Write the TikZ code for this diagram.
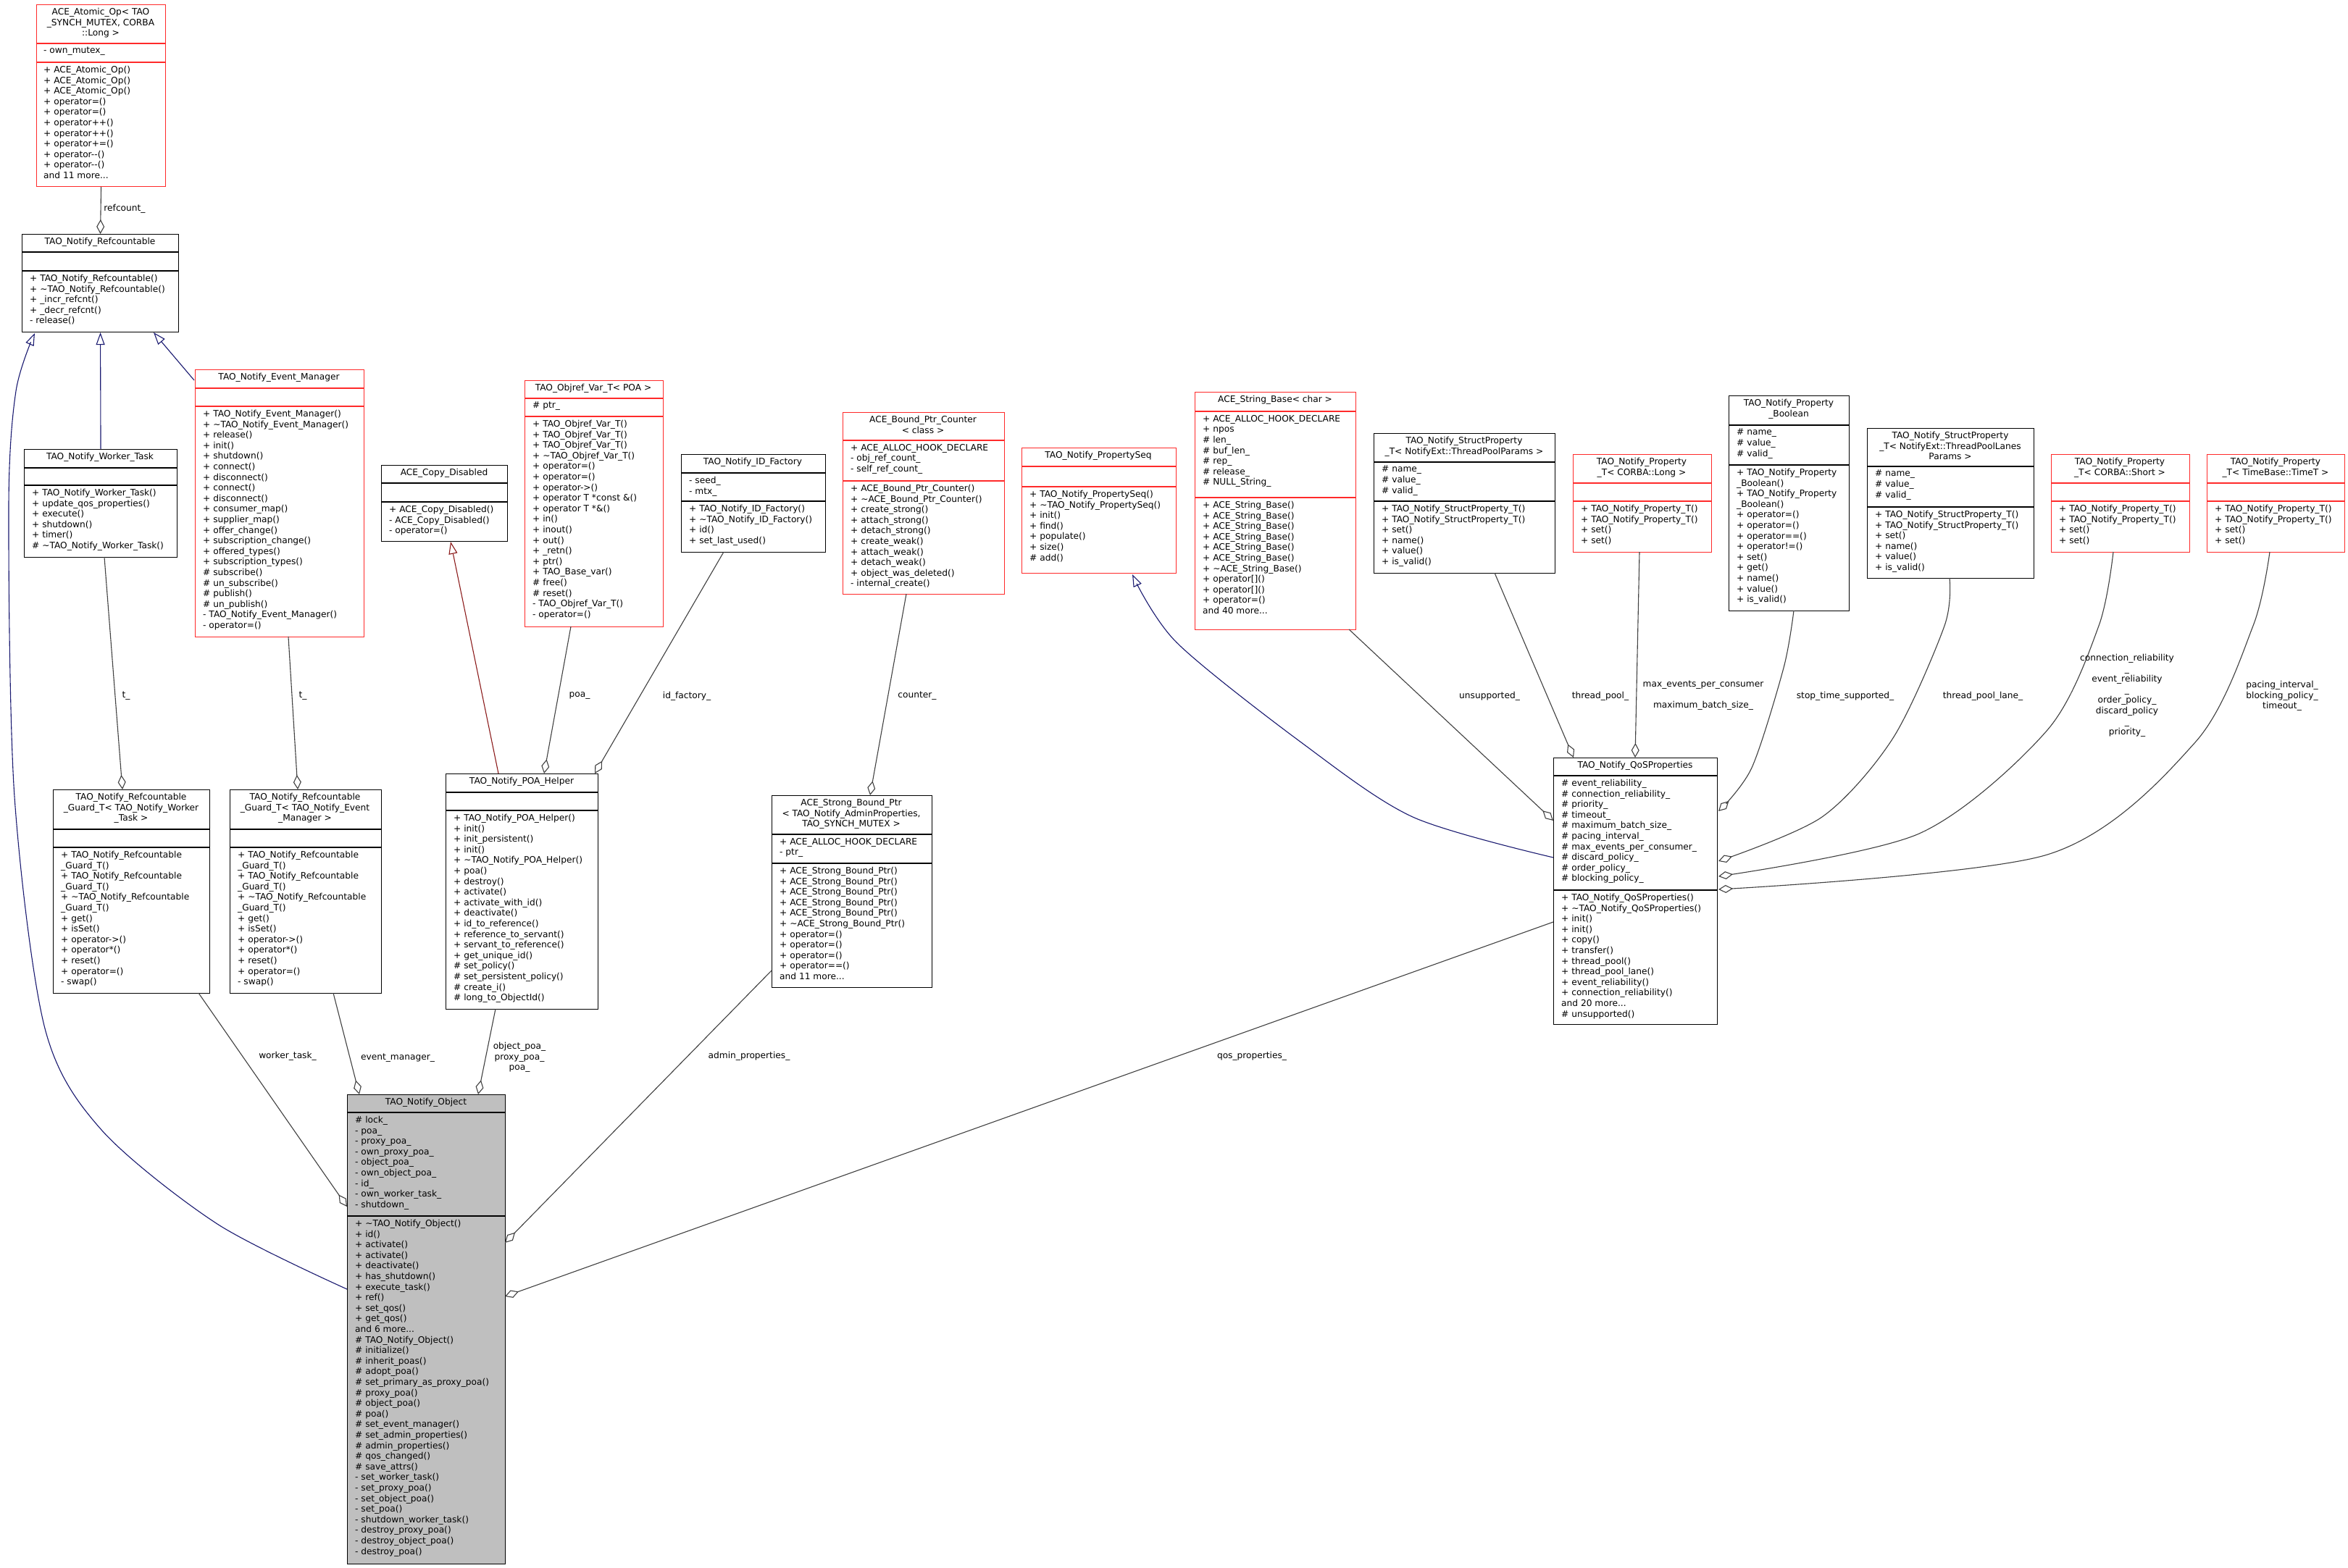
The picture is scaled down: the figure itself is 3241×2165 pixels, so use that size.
\documentclass[tikz,border=0pt]{standalone}
\usepackage{fontspec}
\setmainfont{DejaVu Sans}
\usetikzlibrary{arrows.meta}
\definecolor{bred}{HTML}{FF2A2A}
\definecolor{egray}{HTML}{404040}
\definecolor{navy}{HTML}{191970}
\definecolor{fred}{HTML}{8B1A1A}
\definecolor{objfill}{HTML}{BFBFBF}
\newcommand\tl{\textasciitilde}
\newcommand\cls[8]{%
  \node[#8, anchor=north west, minimum width={#4-#2}, minimum height={#5-#3}] (#1) at (#2,#3) {};
  \draw[#8] (#2,#6)--(#4,#6) (#2,#7)--(#4,#7);}
\tikzset{
  every node/.style={font=\fontsize{12.2}{14.6}\selectfont},
  cbox/.style={draw=black, line width=1.1pt, inner sep=0, fill=white},
  rbox/.style={draw=bred, line width=1.1pt, inner sep=0, fill=white},
  obox/.style={draw=black, line width=1.1pt, inner sep=0, fill=objfill},
  ttl/.style={anchor=north, align=center, inner sep=0},
  txt/.style={anchor=north west, align=left, inner sep=0},
  lbl/.style={anchor=north, align=center, inner sep=0},
  agg/.style={draw=egray, line width=1.1pt, -{Diamond[open,length=20pt,width=11pt]}},
  inhb/.style={draw=navy, line width=1.1pt, -{Triangle[open,length=17pt,width=12pt]}},
  inhr/.style={draw=fred, line width=1.1pt, -{Triangle[open,length=17pt,width=12pt]}},
}
\begin{document}
\begin{tikzpicture}[x=1pt,y=-1pt]
\useasboundingbox[fill=white] (0,0) rectangle (3241,2165);

% ---------------- classes
\cls{atomic}{50}{6}{228}{257}{60}{86}{rbox}
\node[ttl] at (139,11) {ACE\_Atomic\_Op< TAO\\\_SYNCH\_MUTEX, CORBA\\::Long >};
\node[txt] at (60,65) {- own\_mutex\_};
\node[txt] at (60,91) {+ ACE\_Atomic\_Op()\\+ ACE\_Atomic\_Op()\\+ ACE\_Atomic\_Op()\\+ operator=()\\+ operator=()\\+ operator++()\\+ operator++()\\+ operator+=()\\+ operator-{}-()\\+ operator-{}-()\\and 11 more...};

\cls{refc}{30}{323}{246}{458}{348}{374}{cbox}
\node[ttl] at (138,328) {TAO\_Notify\_Refcountable};
\node[txt] at (41,379) {+ TAO\_Notify\_Refcountable()\\+ \tl TAO\_Notify\_Refcountable()\\+ \_incr\_refcnt()\\+ \_decr\_refcnt()\\- release()};

\cls{worker}{33}{620}{244}{769}{646}{670}{cbox}
\node[ttl] at (138,625) {TAO\_Notify\_Worker\_Task};
\node[txt] at (44,675) {+ TAO\_Notify\_Worker\_Task()\\+ update\_qos\_properties()\\+ execute()\\+ shutdown()\\+ timer()\\\# \tl TAO\_Notify\_Worker\_Task()};

\cls{evm}{269}{510}{502}{879}{536}{561}{rbox}
\node[ttl] at (385,515) {TAO\_Notify\_Event\_Manager};
\node[txt] at (280,566) {+ TAO\_Notify\_Event\_Manager()\\+ \tl TAO\_Notify\_Event\_Manager()\\+ release()\\+ init()\\+ shutdown()\\+ connect()\\+ disconnect()\\+ connect()\\+ disconnect()\\+ consumer\_map()\\+ supplier\_map()\\+ offer\_change()\\+ subscription\_change()\\+ offered\_types()\\+ subscription\_types()\\\# subscribe()\\\# un\_subscribe()\\\# publish()\\\# un\_publish()\\- TAO\_Notify\_Event\_Manager()\\- operator=()};

\cls{copyd}{526}{642}{700}{747}{667}{693}{cbox}
\node[ttl] at (613,647) {ACE\_Copy\_Disabled};
\node[txt] at (537,698) {+ ACE\_Copy\_Disabled()\\- ACE\_Copy\_Disabled()\\- operator=()};

\cls{objref}{724}{525}{915}{865}{550}{575}{rbox}
\node[ttl] at (819,530) {TAO\_Objref\_Var\_T< POA >};
\node[txt] at (735,555) {\# ptr\_};
\node[txt] at (735,580) {+ TAO\_Objref\_Var\_T()\\+ TAO\_Objref\_Var\_T()\\+ TAO\_Objref\_Var\_T()\\+ \tl TAO\_Objref\_Var\_T()\\+ operator=()\\+ operator=()\\+ operator->()\\+ operator T *const \&()\\+ operator T *\&()\\+ in()\\+ inout()\\+ out()\\+ \_retn()\\+ ptr()\\+ TAO\_Base\_var()\\\# free()\\\# reset()\\- TAO\_Objref\_Var\_T()\\- operator=()};

\cls{idf}{940}{627}{1139}{762}{653}{692}{cbox}
\node[ttl] at (1039,632) {TAO\_Notify\_ID\_Factory};
\node[txt] at (951,658) {- seed\_\\- mtx\_};
\node[txt] at (951,697) {+ TAO\_Notify\_ID\_Factory()\\+ \tl TAO\_Notify\_ID\_Factory()\\+ id()\\+ set\_last\_used()};

\cls{bpc}{1163}{569}{1386}{820}{608}{664}{rbox}
\node[ttl] at (1274,574) {ACE\_Bound\_Ptr\_Counter\\< class >};
\node[txt] at (1174,613) {+ ACE\_ALLOC\_HOOK\_DECLARE\\- obj\_ref\_count\_\\- self\_ref\_count\_};
\node[txt] at (1174,669) {+ ACE\_Bound\_Ptr\_Counter()\\+ \tl ACE\_Bound\_Ptr\_Counter()\\+ create\_strong()\\+ attach\_strong()\\+ detach\_strong()\\+ create\_weak()\\+ attach\_weak()\\+ detach\_weak()\\+ object\_was\_deleted()\\- internal\_create()};

\cls{pseq}{1410}{618}{1623}{791}{644}{672}{rbox}
\node[ttl] at (1516,623) {TAO\_Notify\_PropertySeq};
\node[txt] at (1421,677) {+ TAO\_Notify\_PropertySeq()\\+ \tl TAO\_Notify\_PropertySeq()\\+ init()\\+ find()\\+ populate()\\+ size()\\\# add()};

\cls{strb}{1649}{541}{1871}{869}{568}{687}{rbox}
\node[ttl] at (1760,546) {ACE\_String\_Base< char >};
\node[txt] at (1660,573) {+ ACE\_ALLOC\_HOOK\_DECLARE\\+ npos\\\# len\_\\\# buf\_len\_\\\# rep\_\\\# release\_\\\# NULL\_String\_};
\node[txt] at (1660,692) {+ ACE\_String\_Base()\\+ ACE\_String\_Base()\\+ ACE\_String\_Base()\\+ ACE\_String\_Base()\\+ ACE\_String\_Base()\\+ ACE\_String\_Base()\\+ \tl ACE\_String\_Base()\\+ operator[]()\\+ operator[]()\\+ operator=()\\and 40 more...};

\cls{tpp}{1896}{598}{2146}{791}{638}{692}{cbox}
\node[ttl] at (2021,603) {TAO\_Notify\_StructProperty\\\_T< NotifyExt::ThreadPoolParams >};
\node[txt] at (1907,643) {\# name\_\\\# value\_\\\# valid\_};
\node[txt] at (1907,697) {+ TAO\_Notify\_StructProperty\_T()\\+ TAO\_Notify\_StructProperty\_T()\\+ set()\\+ name()\\+ value()\\+ is\_valid()};

\cls{plong}{2171}{627}{2362}{762}{667}{692}{rbox}
\node[ttl] at (2266,632) {TAO\_Notify\_Property\\\_T< CORBA::Long >};
\node[txt] at (2182,697) {+ TAO\_Notify\_Property\_T()\\+ TAO\_Notify\_Property\_T()\\+ set()\\+ set()};

\cls{pbool}{2386}{546}{2552}{843}{587}{642}{cbox}
\node[ttl] at (2469,551) {TAO\_Notify\_Property\\\_Boolean};
\node[txt] at (2397,592) {\# name\_\\\# value\_\\\# valid\_};
\node[txt] at (2397,647) {+ TAO\_Notify\_Property\\\_Boolean()\\+ TAO\_Notify\_Property\\\_Boolean()\\+ operator=()\\+ operator=()\\+ operator==()\\+ operator!=()\\+ set()\\+ get()\\+ name()\\+ value()\\+ is\_valid()};

\cls{tpl}{2577}{591}{2807}{798}{644}{700}{cbox}
\node[ttl] at (2692,596) {TAO\_Notify\_StructProperty\\\_T< NotifyExt::ThreadPoolLanes\\Params >};
\node[txt] at (2588,649) {\# name\_\\\# value\_\\\# valid\_};
\node[txt] at (2588,705) {+ TAO\_Notify\_StructProperty\_T()\\+ TAO\_Notify\_StructProperty\_T()\\+ set()\\+ name()\\+ value()\\+ is\_valid()};

\cls{pshort}{2831}{627}{3022}{762}{667}{692}{rbox}
\node[ttl] at (2926,632) {TAO\_Notify\_Property\\\_T< CORBA::Short >};
\node[txt] at (2842,697) {+ TAO\_Notify\_Property\_T()\\+ TAO\_Notify\_Property\_T()\\+ set()\\+ set()};

\cls{ptime}{3046}{627}{3236}{762}{667}{692}{rbox}
\node[ttl] at (3141,632) {TAO\_Notify\_Property\\\_T< TimeBase::TimeT >};
\node[txt] at (3057,697) {+ TAO\_Notify\_Property\_T()\\+ TAO\_Notify\_Property\_T()\\+ set()\\+ set()};

\cls{qos}{2144}{1046}{2370}{1414}{1071}{1229}{cbox}
\node[ttl] at (2257,1051) {TAO\_Notify\_QoSProperties};
\node[txt] at (2155,1076) {\# event\_reliability\_\\\# connection\_reliability\_\\\# priority\_\\\# timeout\_\\\# maximum\_batch\_size\_\\\# pacing\_interval\_\\\# max\_events\_per\_consumer\_\\\# discard\_policy\_\\\# order\_policy\_\\\# blocking\_policy\_};
\node[txt] at (2155,1234) {+ TAO\_Notify\_QoSProperties()\\+ \tl TAO\_Notify\_QoSProperties()\\+ init()\\+ init()\\+ copy()\\+ transfer()\\+ thread\_pool()\\+ thread\_pool\_lane()\\+ event\_reliability()\\+ connection\_reliability()\\and 20 more...\\\# unsupported()};

\cls{gw}{73}{1090}{289}{1371}{1145}{1170}{cbox}
\node[ttl] at (181,1095) {TAO\_Notify\_Refcountable\\\_Guard\_T< TAO\_Notify\_Worker\\\_Task >};
\node[txt] at (84,1175) {+ TAO\_Notify\_Refcountable\\\_Guard\_T()\\+ TAO\_Notify\_Refcountable\\\_Guard\_T()\\+ \tl TAO\_Notify\_Refcountable\\\_Guard\_T()\\+ get()\\+ isSet()\\+ operator->()\\+ operator*()\\+ reset()\\+ operator=()\\- swap()};

\cls{ge}{317}{1090}{526}{1371}{1145}{1170}{cbox}
\node[ttl] at (421,1095) {TAO\_Notify\_Refcountable\\\_Guard\_T< TAO\_Notify\_Event\\\_Manager >};
\node[txt] at (328,1175) {+ TAO\_Notify\_Refcountable\\\_Guard\_T()\\+ TAO\_Notify\_Refcountable\\\_Guard\_T()\\+ \tl TAO\_Notify\_Refcountable\\\_Guard\_T()\\+ get()\\+ isSet()\\+ operator->()\\+ operator*()\\+ reset()\\+ operator=()\\- swap()};

\cls{poa}{615}{1068}{825}{1393}{1094}{1119}{cbox}
\node[ttl] at (720,1073) {TAO\_Notify\_POA\_Helper};
\node[txt] at (626,1124) {+ TAO\_Notify\_POA\_Helper()\\+ init()\\+ init\_persistent()\\+ init()\\+ \tl TAO\_Notify\_POA\_Helper()\\+ poa()\\+ destroy()\\+ activate()\\+ activate\_with\_id()\\+ deactivate()\\+ id\_to\_reference()\\+ reference\_to\_servant()\\+ servant\_to\_reference()\\+ get\_unique\_id()\\\# set\_policy()\\\# set\_persistent\_policy()\\\# create\_i()\\\# long\_to\_ObjectId()};

\cls{strong}{1065}{1098}{1286}{1363}{1152}{1192}{cbox}
\node[ttl] at (1175,1103) {ACE\_Strong\_Bound\_Ptr\\< TAO\_Notify\_AdminProperties,\\TAO\_SYNCH\_MUTEX >};
\node[txt] at (1076,1157) {+ ACE\_ALLOC\_HOOK\_DECLARE\\- ptr\_};
\node[txt] at (1076,1197) {+ ACE\_Strong\_Bound\_Ptr()\\+ ACE\_Strong\_Bound\_Ptr()\\+ ACE\_Strong\_Bound\_Ptr()\\+ ACE\_Strong\_Bound\_Ptr()\\+ ACE\_Strong\_Bound\_Ptr()\\+ \tl ACE\_Strong\_Bound\_Ptr()\\+ operator=()\\+ operator=()\\+ operator=()\\+ operator==()\\and 11 more...};

\cls{obj}{479}{1511}{697}{2159}{1536}{1679}{obox}
\node[ttl] at (588,1516) {TAO\_Notify\_Object};
\node[txt] at (490,1541) {\# lock\_\\- poa\_\\- proxy\_poa\_\\- own\_proxy\_poa\_\\- object\_poa\_\\- own\_object\_poa\_\\- id\_\\- own\_worker\_task\_\\- shutdown\_};
\node[txt] at (490,1684) {+ \tl TAO\_Notify\_Object()\\+ id()\\+ activate()\\+ activate()\\+ deactivate()\\+ has\_shutdown()\\+ execute\_task()\\+ ref()\\+ set\_qos()\\+ get\_qos()\\and 6 more...\\\# TAO\_Notify\_Object()\\\# initialize()\\\# inherit\_poas()\\\# adopt\_poa()\\\# set\_primary\_as\_proxy\_poa()\\\# proxy\_poa()\\\# object\_poa()\\\# poa()\\\# set\_event\_manager()\\\# set\_admin\_properties()\\\# admin\_properties()\\\# qos\_changed()\\\# save\_attrs()\\- set\_worker\_task()\\- set\_proxy\_poa()\\- set\_object\_poa()\\- set\_poa()\\- shutdown\_worker\_task()\\- destroy\_proxy\_poa()\\- destroy\_object\_poa()\\- destroy\_poa()};

% ---------------- connectors
\draw[agg] (atomic.south) -- (refc.north);
\draw[inhb] (worker.north) -- (refc.south);
\draw[inhb] (268,525) -- (212,459);
\draw[inhb] plot[smooth] coordinates {(479,1780) (300,1690) (140,1560) (62,1420) (20,1100) (12,700) (22,540) (48,460)};
\draw[agg] (144,769) -- (169,1090);
\draw[agg] (398,879) -- (411,1090);
\draw[inhr] (688,1068) -- (622,748);
\draw[agg] (788,865) -- (751,1068);
\draw[agg] (999,762) -- (821,1068);
\draw[agg] (1251,820) -- (1201,1098);
\draw[agg] (274,1371) -- (479,1666);
\draw[agg] (460,1371) -- (496,1511);
\draw[agg] (684,1393) -- (660,1511);
\draw[agg] (1065,1340) -- (697,1716);
\draw[agg] (2144,1273) -- (697,1790);
\draw[inhb] plot[smooth] coordinates {(2144,1184) (1950,1128) (1796,1025) (1624,887) (1563,793)};
\draw[agg] (1862,869) -- (2144,1133);
\draw[agg] (2063,791) -- (2172,1046);
\draw[agg] (2263,762) -- (2257,1046);
\draw[agg] plot[smooth] coordinates {(2476,843) (2462,922) (2418,1060) (2372,1120)};
\draw[agg] plot[smooth] coordinates {(2691,798) (2684,864) (2613,1019) (2515,1128) (2372,1189)};
\draw[agg] plot[smooth] coordinates {(2917,762) (2897,864) (2826,1008) (2649,1151) (2372,1210)};
\draw[agg] plot[smooth] coordinates {(3133,762) (3110,864) (3030,1025) (2826,1180) (2372,1228)};

% ---------------- labels
\node[lbl] at (172,282) {refcount\_};
\node[lbl] at (174,955) {t\_};
\node[lbl] at (418,955) {t\_};
\node[lbl] at (800,955) {poa\_};
\node[lbl] at (948,955) {id\_factory\_};
\node[lbl] at (1266,955) {counter\_};
\node[lbl] at (549,1455) {event\_manager\_};
\node[lbl] at (717,1439) {object\_poa\_\\proxy\_poa\_\\poa\_};
\node[lbl] at (397,1452) {worker\_task\_};
\node[lbl] at (1034,1452) {admin\_properties\_};
\node[lbl] at (1728,1452) {qos\_properties\_};
\node[lbl] at (2056,955) {unsupported\_};
\node[lbl] at (2209,955) {thread\_pool\_};
\node[lbl] at (2351,940) {max\_events\_per\_consumer\\ \\maximum\_batch\_size\_};
\node[lbl] at (2547,955) {stop\_time\_supported\_};
\node[lbl] at (2737,955) {thread\_pool\_lane\_};
\node[lbl] at (2936,903) {connection\_reliability\\\_\\event\_reliability\\\_\\order\_policy\_\\discard\_policy\\\_\\priority\_};
\node[lbl] at (3150,940) {pacing\_interval\_\\blocking\_policy\_\\timeout\_};
\end{tikzpicture}
\end{document}
